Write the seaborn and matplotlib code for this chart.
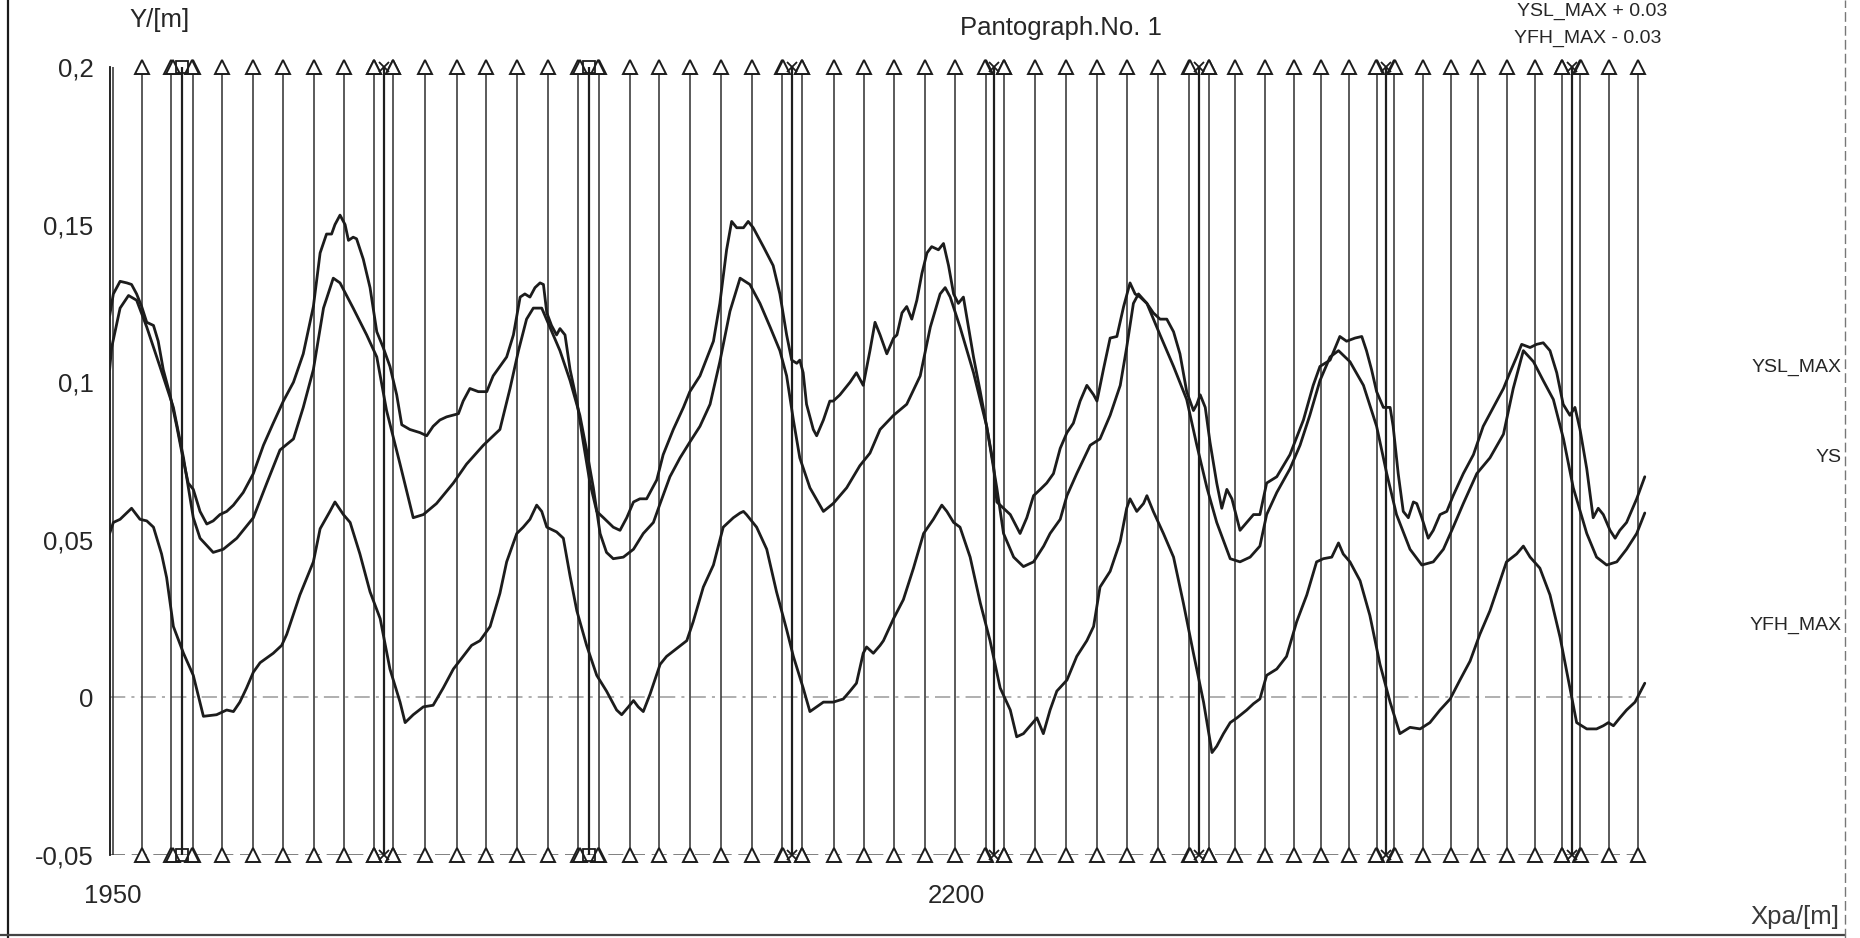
import numpy as np
import pandas as pd
import matplotlib
matplotlib.use("Agg")
import matplotlib.pyplot as plt
from matplotlib.lines import Line2D
from matplotlib.ticker import FixedLocator, FuncFormatter
import seaborn as sns

# ---------------------------------------------------------------- data
# Pantograph position along the line (m) and heights (m)
ysl_x = [1949.0, 1950.1, 1952.1, 1954.1, 1955.5, 1957.0, 1958.5, 1960.0, 1962.0, 1963.4,
         1964.9, 1966.9, 1968.9, 1970.9, 1972.3, 1973.8, 1975.8, 1977.8, 1979.7, 1981.7,
         1983.7, 1985.7, 1988.6, 1991.6, 1994.6, 1997.5, 2000.5, 2003.5, 2006.4, 2009.4,
         2011.4, 2013.3, 2014.8, 2015.8, 2017.3, 2018.8, 2019.8, 2021.2, 2022.2, 2024.2,
         2026.2, 2028.2, 2030.1, 2032.1, 2034.1, 2035.6, 2038.0, 2041.0, 2043.0, 2044.9,
         2046.9, 2048.9, 2052.4, 2053.8, 2055.8, 2058.3, 2060.8, 2062.7, 2064.7, 2066.7,
         2068.7, 2070.7, 2072.1, 2073.6, 2075.1, 2076.6, 2077.6, 2078.6, 2080.0, 2081.5,
         2082.5, 2084.0, 2085.5, 2087.5, 2089.4, 2091.4, 2093.4, 2095.4, 2098.3, 2100.3,
         2102.3, 2104.3, 2106.2, 2108.2, 2111.2, 2113.1, 2116.1, 2119.1, 2121.0, 2124.0,
         2128.0, 2129.9, 2131.9, 2133.4, 2134.9, 2136.9, 2138.3, 2139.8, 2142.8, 2145.7,
         2147.7, 2149.7, 2151.2, 2152.7, 2153.6, 2154.6, 2155.6, 2157.6, 2158.6, 2160.6,
         2162.5, 2163.5, 2165.5, 2168.5, 2170.4, 2172.4, 2174.4, 2175.9, 2177.4, 2179.4,
         2181.4, 2182.4, 2183.9, 2185.3, 2186.8, 2188.3, 2189.8, 2191.3, 2192.7, 2194.7,
         2196.2, 2197.7, 2199.2, 2200.6, 2202.1, 2203.6, 2205.1, 2207.1, 2209.0, 2211.0,
         2212.0, 2214.0, 2216.0, 2218.9, 2220.9, 2222.9, 2224.9, 2226.8, 2228.8, 2230.8,
         2232.8, 2234.7, 2236.7, 2238.7, 2240.7, 2241.7, 2243.6, 2245.6, 2247.6, 2249.6,
         2251.5, 2253.0, 2254.5, 2256.5, 2258.4, 2260.4, 2262.4, 2264.4, 2266.3, 2268.3,
         2270.3, 2271.3, 2272.3, 2273.8, 2275.2, 2277.2, 2278.7, 2280.2, 2281.7, 2284.1,
         2286.1, 2288.1, 2290.0, 2292.0, 2295.0, 2298.9, 2302.9, 2305.8, 2307.8, 2310.8,
         2313.7, 2315.7, 2318.2, 2320.2, 2321.6, 2323.1, 2324.6, 2326.6, 2328.6, 2329.5,
         2331.0, 2332.5, 2334.0, 2335.5, 2336.5, 2338.0, 2339.9, 2341.4, 2343.4, 2345.4,
         2347.3, 2350.3, 2353.3, 2356.2, 2359.2, 2362.2, 2364.1, 2366.1, 2367.6, 2370.1,
         2372.0, 2374.0, 2376.0, 2378.0, 2379.9, 2381.9, 2383.4, 2384.9, 2386.9, 2388.8,
         2390.3, 2391.8, 2393.8, 2395.3, 2396.7, 2398.7, 2401.7, 2404.1]
ysl_y = [0.121, 0.128, 0.132, 0.1315, 0.131, 0.128, 0.124, 0.119, 0.118, 0.113,
         0.104, 0.096, 0.086, 0.075, 0.068, 0.066, 0.059, 0.055, 0.056, 0.058,
         0.059, 0.061, 0.065, 0.071, 0.080, 0.087, 0.094, 0.100, 0.109, 0.124,
         0.141, 0.147, 0.147, 0.150, 0.153, 0.150, 0.145, 0.146, 0.1455, 0.139,
         0.130, 0.116, 0.111, 0.105, 0.096, 0.0865, 0.085, 0.084, 0.083, 0.086,
         0.088, 0.089, 0.090, 0.094, 0.098, 0.097, 0.097, 0.102, 0.105, 0.108,
         0.115, 0.127, 0.128, 0.127, 0.130, 0.1315, 0.131, 0.122, 0.118, 0.115,
         0.117, 0.115, 0.104, 0.094, 0.081, 0.068, 0.059, 0.057, 0.054, 0.053,
         0.057, 0.062, 0.063, 0.063, 0.069, 0.077, 0.085, 0.092, 0.097, 0.102,
         0.113, 0.125, 0.142, 0.151, 0.149, 0.149, 0.151, 0.149, 0.143, 0.137,
         0.128, 0.115, 0.107, 0.106, 0.107, 0.103, 0.093, 0.085, 0.083, 0.088,
         0.094, 0.094, 0.096, 0.100, 0.103, 0.099, 0.110, 0.119, 0.115, 0.109,
         0.114, 0.115, 0.122, 0.124, 0.120, 0.126, 0.1345, 0.141, 0.143, 0.142,
         0.144, 0.137, 0.128, 0.125, 0.127, 0.1175, 0.108, 0.097, 0.086, 0.074,
         0.062, 0.060, 0.058, 0.052, 0.057, 0.064, 0.066, 0.068, 0.071, 0.079,
         0.084, 0.087, 0.094, 0.099, 0.096, 0.094, 0.104, 0.114, 0.1145, 0.124,
         0.1315, 0.128, 0.127, 0.125, 0.122, 0.120, 0.120, 0.116, 0.109, 0.097,
         0.091, 0.093, 0.096, 0.092, 0.081, 0.068, 0.060, 0.066, 0.063, 0.053,
         0.0555, 0.058, 0.058, 0.068, 0.070, 0.077, 0.088, 0.099, 0.105, 0.107,
         0.1145, 0.113, 0.114, 0.1145, 0.110, 0.104, 0.097, 0.092, 0.092, 0.086,
         0.071, 0.059, 0.057, 0.062, 0.0615, 0.057, 0.0505, 0.053, 0.058, 0.059,
         0.064, 0.071, 0.077, 0.086, 0.092, 0.098, 0.103, 0.108, 0.112, 0.111,
         0.112, 0.1125, 0.110, 0.103, 0.093, 0.0895, 0.092, 0.085, 0.0725, 0.057,
         0.060, 0.058, 0.053, 0.0505, 0.053, 0.0555, 0.063, 0.070]

ys_x = [1949.0, 1949.6, 1952.1, 1954.6, 1957.0, 1960.0, 1963.9, 1967.9, 1970.9, 1973.8,
        1975.8, 1979.7, 1982.7, 1986.7, 1991.6, 1995.6, 1999.5, 2003.5, 2006.4, 2009.4,
        2012.4, 2015.3, 2017.3, 2021.2, 2025.2, 2028.2, 2031.1, 2035.1, 2039.0, 2042.0,
        2045.9, 2050.9, 2054.8, 2059.8, 2064.7, 2067.7, 2070.2, 2072.6, 2074.6, 2077.1,
        2079.5, 2082.5, 2085.5, 2088.4, 2090.4, 2092.4, 2094.4, 2096.3, 2098.3, 2101.3,
        2104.3, 2107.2, 2110.2, 2112.2, 2115.1, 2118.1, 2121.0, 2124.0, 2127.0, 2129.9,
        2132.9, 2135.9, 2138.8, 2141.8, 2144.8, 2147.7, 2149.7, 2151.7, 2153.6, 2156.6,
        2160.6, 2163.5, 2167.5, 2171.4, 2174.4, 2177.4, 2181.4, 2185.3, 2189.3, 2192.3,
        2195.2, 2196.7, 2198.2, 2201.1, 2205.1, 2209.0, 2212.0, 2214.0, 2217.0, 2219.9,
        2222.9, 2225.9, 2227.8, 2230.8, 2232.8, 2235.7, 2239.7, 2242.6, 2245.6, 2248.6,
        2250.5, 2252.5, 2254.0, 2256.5, 2260.4, 2264.4, 2268.3, 2271.3, 2274.3, 2277.2,
        2281.2, 2284.1, 2287.1, 2290.0, 2292.0, 2295.0, 2298.9, 2301.9, 2304.8, 2307.8,
        2310.8, 2313.3, 2316.7, 2320.7, 2324.6, 2327.6, 2330.5, 2334.5, 2338.0, 2341.4,
        2344.4, 2347.3, 2350.3, 2354.3, 2358.2, 2362.2, 2365.1, 2368.1, 2371.1, 2374.0,
        2377.0, 2380.0, 2382.9, 2386.9, 2389.8, 2392.8, 2395.8, 2398.7, 2401.7, 2404.1]
ys_y = [0.104, 0.111, 0.1235, 0.1275, 0.126, 0.1175, 0.105, 0.092, 0.076, 0.057,
        0.0505, 0.046, 0.047, 0.0505, 0.057, 0.068, 0.0785, 0.082, 0.092, 0.104,
        0.1235, 0.133, 0.1315, 0.1235, 0.115, 0.108, 0.091, 0.074, 0.057, 0.058,
        0.0615, 0.068, 0.074, 0.080, 0.085, 0.098, 0.110, 0.120, 0.1235, 0.1235,
        0.1175, 0.110, 0.1005, 0.0895, 0.0785, 0.0665, 0.052, 0.046, 0.044, 0.0445,
        0.047, 0.052, 0.0555, 0.0615, 0.070, 0.076, 0.081, 0.086, 0.093, 0.1065,
        0.1225, 0.133, 0.131, 0.125, 0.1175, 0.110, 0.102, 0.088, 0.076, 0.0665,
        0.059, 0.0615, 0.0665, 0.0735, 0.0775, 0.085, 0.0895, 0.093, 0.102, 0.1175,
        0.128, 0.130, 0.127, 0.1175, 0.103, 0.086, 0.0665, 0.052, 0.0445, 0.0415,
        0.043, 0.048, 0.052, 0.0565, 0.064, 0.071, 0.080, 0.082, 0.0895, 0.099,
        0.111, 0.125, 0.128, 0.125, 0.115, 0.105, 0.0945, 0.080, 0.0665, 0.0555,
        0.044, 0.043, 0.0445, 0.048, 0.058, 0.065, 0.0725, 0.080, 0.0895, 0.1005,
        0.108, 0.110, 0.1065, 0.099, 0.086, 0.071, 0.058, 0.047, 0.042, 0.043,
        0.047, 0.054, 0.0615, 0.071, 0.076, 0.0835, 0.098, 0.110, 0.1065, 0.1005,
        0.0945, 0.082, 0.0665, 0.052, 0.0445, 0.042, 0.043, 0.047, 0.052, 0.0585]

yfh_x = [1949.0, 1950.1, 1952.1, 1955.5, 1958.0, 1960.0, 1962.0, 1964.4, 1965.9, 1967.9,
         1970.9, 1973.8, 1976.8, 1980.7, 1983.7, 1985.7, 1987.6, 1989.6, 1991.6, 1993.6,
         1997.5, 2000.0, 2001.5, 2005.4, 2009.4, 2011.4, 2014.3, 2015.8, 2018.3, 2020.3,
         2023.2, 2026.2, 2029.2, 2032.1, 2035.1, 2036.6, 2039.0, 2042.0, 2044.9, 2047.9,
         2050.9, 2053.8, 2056.3, 2058.8, 2061.8, 2064.7, 2066.7, 2069.7, 2071.6, 2073.6,
         2075.6, 2077.1, 2078.6, 2081.5, 2083.5, 2085.5, 2087.5, 2090.4, 2093.4, 2096.3,
         2099.3, 2100.8, 2102.8, 2104.3, 2105.7, 2107.2, 2109.2, 2112.2, 2114.1, 2117.1,
         2120.1, 2122.0, 2125.0, 2128.0, 2130.9, 2133.9, 2135.9, 2136.9, 2137.8, 2140.8,
         2143.8, 2146.7, 2149.7, 2151.7, 2154.6, 2156.6, 2158.6, 2160.6, 2163.5, 2166.5,
         2168.5, 2170.4, 2172.4, 2173.4, 2175.4, 2177.4, 2178.4, 2181.4, 2184.3, 2187.3,
         2190.3, 2193.2, 2195.7, 2197.2, 2199.2, 2201.1, 2204.1, 2207.1, 2210.0, 2213.0,
         2216.0, 2217.9, 2219.9, 2221.9, 2223.9, 2225.8, 2227.8, 2229.8, 2232.8, 2235.7,
         2238.7, 2240.7, 2242.6, 2245.6, 2248.6, 2250.5, 2251.5, 2253.5, 2255.5, 2256.5,
         2258.4, 2261.4, 2264.4, 2267.3, 2270.3, 2273.3, 2275.8, 2277.2, 2279.2, 2281.2,
         2283.2, 2286.1, 2288.1, 2290.0, 2292.0, 2295.0, 2297.9, 2300.9, 2303.9, 2306.8,
         2308.8, 2311.3, 2313.3, 2314.7, 2316.7, 2319.7, 2322.6, 2325.6, 2328.6, 2331.5,
         2334.5, 2337.5, 2340.4, 2343.4, 2346.4, 2349.3, 2352.3, 2355.2, 2358.2, 2361.2,
         2363.1, 2366.1, 2368.1, 2370.1, 2373.0, 2376.0, 2379.0, 2381.9, 2383.9, 2386.9,
         2389.8, 2391.8, 2393.3, 2394.8, 2396.7, 2398.7, 2401.2, 2404.1]
yfh_y = [0.052, 0.0555, 0.0565, 0.060, 0.0565, 0.056, 0.054, 0.0455, 0.038, 0.0225,
         0.014, 0.007, -0.006, -0.0055, -0.004, -0.0045, -0.0015, 0.003, 0.008, 0.011,
         0.014, 0.0165, 0.020, 0.0325, 0.043, 0.0535, 0.059, 0.062, 0.058, 0.0555,
         0.0455, 0.0335, 0.025, 0.009, -0.0015, -0.008, -0.0055, -0.003, -0.0025, 0.003,
         0.009, 0.013, 0.0165, 0.018, 0.0225, 0.033, 0.043, 0.052, 0.054, 0.0565,
         0.061, 0.059, 0.054, 0.0525, 0.0505, 0.0385, 0.0275, 0.0165, 0.007, 0.002,
         -0.004, -0.0055, -0.003, -0.001, -0.003, -0.0045, 0.001, 0.0105, 0.013, 0.0155,
         0.018, 0.024, 0.035, 0.042, 0.054, 0.057, 0.0585, 0.059, 0.058, 0.054,
         0.047, 0.0335, 0.0215, 0.013, 0.003, -0.0045, -0.003, -0.0015, -0.0015, -0.0005,
         0.002, 0.0045, 0.014, 0.016, 0.014, 0.0165, 0.018, 0.025, 0.031, 0.041,
         0.052, 0.0565, 0.061, 0.059, 0.0555, 0.054, 0.0445, 0.030, 0.018, 0.003,
         -0.004, -0.0125, -0.0115, -0.009, -0.0065, -0.0115, -0.004, 0.002, 0.0055, 0.013,
         0.018, 0.0225, 0.035, 0.040, 0.0495, 0.060, 0.063, 0.059, 0.0615, 0.064,
         0.059, 0.052, 0.0445, 0.030, 0.014, -0.0015, -0.0175, -0.0155, -0.0115, -0.008,
         -0.0065, -0.004, -0.002, -0.0005, 0.007, 0.009, 0.013, 0.024, 0.0325, 0.043,
         0.044, 0.0445, 0.049, 0.0455, 0.043, 0.037, 0.026, 0.0105, -0.0015, -0.0115,
         -0.0095, -0.010, -0.008, -0.004, -0.0005, 0.0055, 0.0115, 0.020, 0.0275, 0.037,
         0.043, 0.0455, 0.048, 0.0445, 0.041, 0.0325, 0.019, 0.003, -0.008, -0.010,
         -0.010, -0.009, -0.008, -0.009, -0.0065, -0.004, -0.0015, 0.0045]

# Catenary supports (m) and their marker style
support_x = [1970.5, 2030.3, 2091.1, 2151.4, 2211.3, 2272.0, 2327.3, 2382.4]
support_kind = ["s", "x", "s", "x", "x", "x", "x", "x"]

# Droppers (m)
dropper_x = [1958.6, 1967.2, 1973.7, 1982.3, 1991.5, 2000.4, 2009.6, 2018.5, 2027.4,
             2033.0, 2042.5, 2052.0, 2060.6, 2069.8, 2079.0, 2087.9,
             2094.1, 2103.2, 2112.0, 2121.2, 2130.2, 2139.4, 2148.4,
             2154.2, 2163.6, 2172.6, 2181.4, 2190.6, 2199.7, 2208.7,
             2214.0, 2223.4, 2232.5, 2241.6, 2250.7, 2259.7, 2269.1,
             2275.0, 2282.6, 2291.5, 2300.0, 2308.2, 2316.4, 2324.6,
             2329.8, 2338.3, 2346.6, 2354.8, 2363.3, 2371.5, 2379.7,
             2385.0, 2393.4, 2402.0]

y_ticks = [-0.05, 0.0, 0.05, 0.1, 0.15, 0.2]
x_ticks = [1950, 2200]
series_names = ["YSL_MAX", "YS", "YFH_MAX"]

# ---------------------------------------------------------------- style
sns.set_style("white")
plt.rcParams["font.family"] = ["Liberation Sans", "DejaVu Sans"]
narrow = ["Liberation Sans Narrow", "Liberation Sans", "DejaVu Sans"]
ink = "#1c1c1c"
text_col = "#262626"

fig = plt.figure(figsize=(18.6, 9.38), dpi=100)
ax = fig.add_axes([0.05894, 0.08849, 0.8288, 0.8401])
ax.set_facecolor("white")

ymin, ymax = y_ticks[0], y_ticks[-1]
xmin, xmax = 1949.0, 2406.0

# dropper and support verticals
ax.vlines(dropper_x, ymin, ymax, color="#2e2e2e", lw=1.1, zorder=2)
ax.vlines(support_x, ymin, ymax, color="#1e1e1e", lw=1.6, zorder=2)
ax.vlines([1950.0], ymin, ymax, color="#2e2e2e", lw=1.1, zorder=2)

# reference lines
ax.plot([xmin, 2404.5], [0, 0], color="#9a9a9a", lw=1.1,
        dashes=(10, 4, 2, 4), zorder=1)
ax.plot([xmin, 2404.5], [ymin, ymin], color="#6a6a6a", lw=1.2,
        dashes=(9, 4), zorder=1)

# height curves
frames = []
for name, xs, ys in zip(series_names, [ysl_x, ys_x, yfh_x], [ysl_y, ys_y, yfh_y]):
    frames.append(pd.DataFrame({"x": xs, "y": ys, "series": name}))
df = pd.concat(frames, ignore_index=True)
sns.lineplot(data=df, x="x", y="y", hue="series", units="series", estimator=None,
             sort=False, palette=[ink, ink, ink], linewidth=2.0, legend=False,
             ax=ax, zorder=4)
for ln in ax.get_lines()[-3:]:
    ln.set_solid_joinstyle("round")

# dropper triangles on top and bottom
for yy in (ymin, ymax):
    ax.plot(dropper_x, [yy] * len(dropper_x), ls="none", marker="^", ms=9.5,
            mfc="white", mec=ink, mew=1.4, clip_on=False, zorder=5)
    # triangles flanking each support
    flank = [s + d for s in support_x for d in (-2.8, 2.8)]
    ax.plot(flank, [yy] * len(flank), ls="none", marker="^", ms=9.5,
            mfc="white", mec=ink, mew=1.4, clip_on=False, zorder=5)
    for sx, kind in zip(support_x, support_kind):
        if kind == "s":
            ax.plot([sx], [yy], ls="none", marker="s", ms=9, mfc="none",
                    mec=ink, mew=1.3, clip_on=False, zorder=6)
        else:
            ax.plot([sx], [yy], ls="none", marker="x", ms=7, mec=ink,
                    mew=1.3, clip_on=False, zorder=6)

# axes limits and ticks
ax.set_xlim(xmin, xmax)
ax.set_ylim(ymin, ymax)
for side in ("top", "right", "bottom"):
    ax.spines[side].set_visible(False)
ax.spines["left"].set_color("#111111")
ax.spines["left"].set_linewidth(1.3)

ax.yaxis.set_major_locator(FixedLocator(y_ticks))
ax.yaxis.set_minor_locator(FixedLocator(
    [round(v, 3) for v in np.arange(-0.05, 0.2001, 0.01) if round(v, 3) not in
     [round(t, 3) for t in y_ticks]]))
ax.yaxis.set_major_formatter(FuncFormatter(lambda v, p: f"{v:g}".replace(".", ",")))
ax.tick_params(axis="y", which="major", direction="inout", length=9, width=1.1,
               pad=7, labelsize=18.5, labelcolor=text_col, color="#111111")
ax.tick_params(axis="y", which="minor", direction="in", length=4.5, width=1.0,
               color="#333333")

ax.xaxis.set_major_locator(FixedLocator(x_ticks))
ax.xaxis.set_minor_locator(FixedLocator([v for v in range(2000, 2401, 50)
                                         if v not in x_ticks]))
ax.xaxis.set_major_formatter(FuncFormatter(lambda v, p: f"{v:.0f}"))
ax.tick_params(axis="x", which="major", direction="out", length=8, width=1.0,
               pad=13, labelsize=18.5, labelcolor=text_col, color="#333333")
ax.tick_params(axis="x", which="minor", direction="in", length=4, width=0.9,
               color="#777777")
ax.set_xlabel("")
ax.set_ylabel("")
ax.grid(False)

# titles and labels
W, H = 1860.0, 938.0
fig.text(160 / W, 1 - 20 / H, "Y/[m]", ha="center", va="center",
         fontsize=18.5, color=text_col)
fig.text(1061 / W, 1 - 28 / H, "Pantograph.No. 1", ha="center", va="center",
         fontsize=18.5, color=text_col)
fig.text(1592 / W, 1 - 11 / H, "YSL_MAX + 0.03", ha="center", va="center",
         fontsize=14, color=text_col, family=narrow)
fig.text(1588 / W, 1 - 38 / H, "YFH_MAX - 0.03", ha="center", va="center",
         fontsize=14, color=text_col, family=narrow)
fig.text(1842 / W, 1 - 367 / H, "YSL_MAX", ha="right", va="center",
         fontsize=14, color=text_col, family=narrow)
fig.text(1842 / W, 1 - 457 / H, "YS", ha="right", va="center",
         fontsize=14, color=text_col, family=narrow)
fig.text(1842 / W, 1 - 625 / H, "YFH_MAX", ha="right", va="center",
         fontsize=14, color=text_col, family=narrow)
fig.text(1839 / W, 1 - 917 / H, "Xpa/[m]", ha="right", va="center",
         fontsize=18.5, color="#3a3a3a")

# page frame
fig.add_artist(Line2D([8 / W, 8 / W], [0, 1], transform=fig.transFigure,
                      color="#1a1a1a", lw=1.6))
fig.add_artist(Line2D([0, 1845 / W], [1 - 935 / H, 1 - 935 / H],
                      transform=fig.transFigure, color="#444444", lw=1.6))
fig.add_artist(Line2D([1845 / W, 1845 / W], [0, 1], transform=fig.transFigure,
                      color="#777777", lw=1.0, dashes=(7, 3)))

fig.savefig("out.png", dpi=100, facecolor="white")
